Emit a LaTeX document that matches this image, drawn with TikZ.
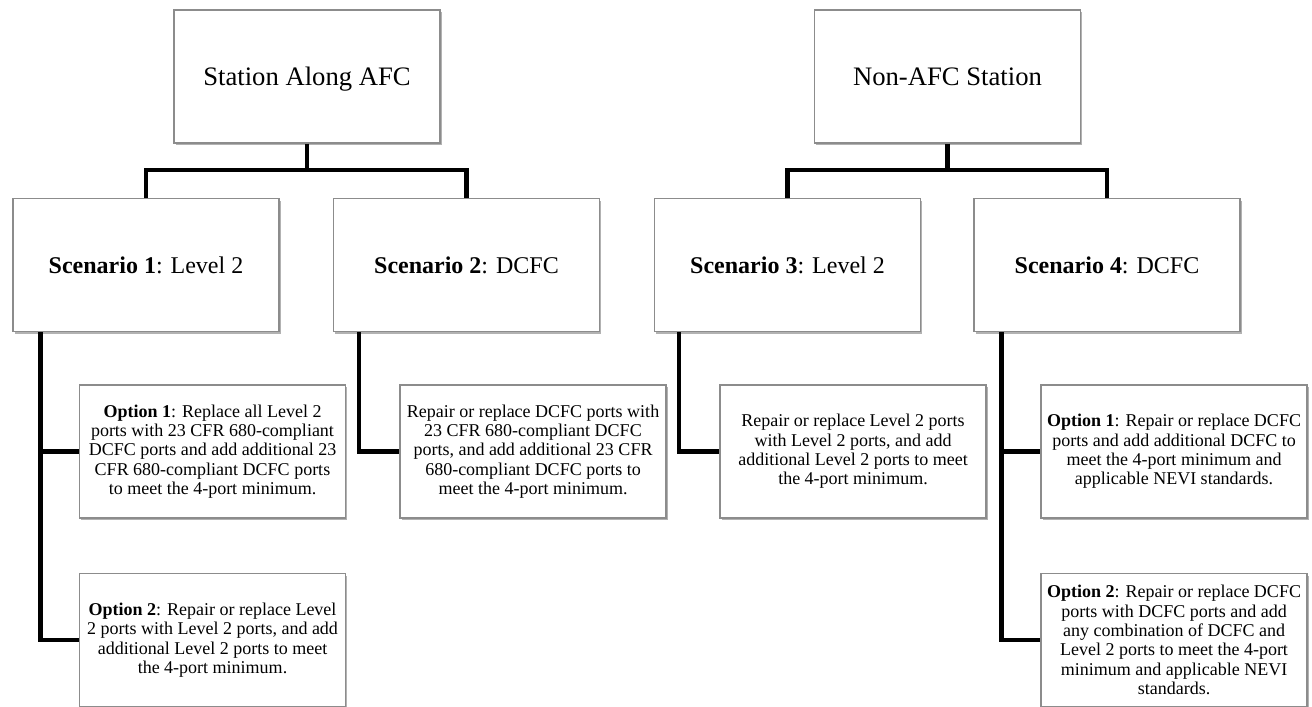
\documentclass[tikz,border=0pt]{standalone}
\usepackage{fontspec}
\setmainfont{Liberation Serif}
\usetikzlibrary{shadows}
\definecolor{boxgray}{RGB}{140,140,140}
\newcommand{\captext}[1]{\vphantom{A}\smash{#1}}
\begin{document}
\begin{tikzpicture}[x=0.75pt,y=-0.75pt,
  basebox/.style={draw=boxgray, line width=0.8pt, fill=white, inner sep=2pt,
    minimum width=199.5pt, minimum height=99.75pt, align=center,
    drop shadow={shadow xshift=1.2pt, shadow yshift=-1.8pt, opacity=0.3, fill=black}},
  topbox/.style={basebox, font=\fontsize{20}{24}\selectfont},
  scenbox/.style={basebox, font=\fontsize{18}{21}\selectfont},
  optbox/.style={basebox, font=\fontsize{13.5}{14.5}\selectfont},
  conn/.style={line width=3.2pt, black}]
\useasboundingbox (0,0) rectangle (1312,706);
% top level
\node[topbox] (st) at (307,76.5) {\captext{Station Along AFC}};
\node[topbox] (na) at (947.5,76.5) {\captext{Non-AFC Station}};
% scenarios
\node[scenbox] (s1) at (146,265) {\textbf{Scenario 1}: Level 2};
\node[scenbox] (s2) at (466.5,265) {\textbf{Scenario 2}: DCFC};
\node[scenbox] (s3) at (787.5,265) {\textbf{Scenario 3}: Level 2};
\node[scenbox] (s4) at (1107,265) {\textbf{Scenario 4}: DCFC};
% options
\node[optbox] (o11) at (212.5,451.5) {\textbf{Option 1}: Replace all Level 2\\ports with 23 CFR 680-compliant\\DCFC ports and add additional 23\\CFR 680-compliant DCFC ports\\to meet the 4-port minimum.};
\node[optbox] (o2) at (533,451.5) {Repair or replace DCFC ports with\\23 CFR 680-compliant DCFC\\ports, and add additional 23 CFR\\680-compliant DCFC ports to\\meet the 4-port minimum.};
\node[optbox] (o3) at (853,451.5) {Repair or replace Level 2 ports\\with Level 2 ports, and add\\additional Level 2 ports to meet\\the 4-port minimum.};
\node[optbox] (o41) at (1174,451.5) {\textbf{Option 1}: Repair or replace DCFC\\ports and add additional DCFC to\\meet the 4-port minimum and\\applicable NEVI standards.};
\node[optbox] (o12) at (212.5,640) {\textbf{Option 2}: Repair or replace Level\\2 ports with Level 2 ports, and add\\additional Level 2 ports to meet\\the 4-port minimum.};
\node[optbox] (o42) at (1174,640) {\textbf{Option 2}: Repair or replace DCFC\\ports with DCFC ports and add\\any combination of DCFC and\\Level 2 ports to meet the 4-port\\minimum and applicable NEVI\\standards.};
% junctions
\coordinate (j1) at (307,170);
\coordinate (j2) at (947.5,170);
% connectors top
\draw[conn] (st.south) -- (j1);
\draw[conn] (s1.north) |- (j1) -| (s2.north);
\draw[conn] (na.south) -- (j2);
\draw[conn] (s3.north) |- (j2) -| (s4.north);
% connectors scenario -> options
\draw[conn] ([xshift=21pt]s1.south west) |- (o12.west);
\draw[conn] ([xshift=21pt]s1.south west |- o11.west) -- (o11.west);
\draw[conn] ([xshift=19.5pt]s2.south west) |- (o2.west);
\draw[conn] ([xshift=18.75pt]s3.south west) |- (o3.west);
\draw[conn] ([xshift=21pt]s4.south west) |- (o42.west);
\draw[conn] ([xshift=21pt]s4.south west |- o41.west) -- (o41.west);
\end{tikzpicture}
\end{document}
